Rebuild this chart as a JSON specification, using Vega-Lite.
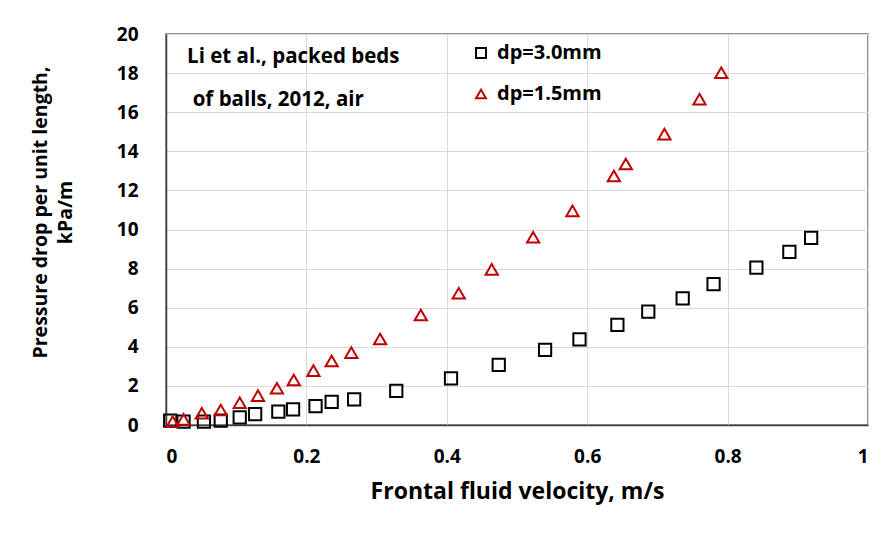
{
  "$schema": "https://vega.github.io/schema/vega-lite/v6.json",
  "width": 702,
  "height": 391,
  "autosize": {"type": "none"},
  "padding": {"left": 166, "top": 34, "right": 24, "bottom": 114},
  "background": "white",
  "config": {
    "font": "Open Sans",
    "view": {"stroke": "#6e6e6e", "strokeWidth": 1.5},
    "axis": {
      "labelFont": "Open Sans", "labelFontWeight": "bold", "labelFontSize": 19, "labelColor": "#000000",
      "titleFont": "Open Sans", "titleFontWeight": "bold", "titleColor": "#000000",
      "gridColor": "#d9d9d9", "gridWidth": 1,
      "domainColor": "#404040", "domainWidth": 1.5,
      "ticks": false, "tickSize": 0, "labelOverlap": false
    },
    "legend": {
      "orient": "none", "legendX": 305, "legendY": 9, "title": null,
      "labelFont": "Open Sans", "labelFontSize": 20, "labelFontWeight": "bold", "labelColor": "#000000",
      "symbolSize": 100, "symbolStrokeWidth": 2, "rowPadding": 21, "labelOffset": 6, "padding": 0
    }
  },
  "data": {
    "values": [
      {"v": 0.006, "p": 0.22, "s": "dp=3.0mm"},
      {"v": 0.025, "p": 0.17, "s": "dp=3.0mm"},
      {"v": 0.054, "p": 0.17, "s": "dp=3.0mm"},
      {"v": 0.078, "p": 0.22, "s": "dp=3.0mm"},
      {"v": 0.105, "p": 0.39, "s": "dp=3.0mm"},
      {"v": 0.127, "p": 0.56, "s": "dp=3.0mm"},
      {"v": 0.160, "p": 0.68, "s": "dp=3.0mm"},
      {"v": 0.181, "p": 0.80, "s": "dp=3.0mm"},
      {"v": 0.213, "p": 0.97, "s": "dp=3.0mm"},
      {"v": 0.236, "p": 1.18, "s": "dp=3.0mm"},
      {"v": 0.268, "p": 1.31, "s": "dp=3.0mm"},
      {"v": 0.328, "p": 1.74, "s": "dp=3.0mm"},
      {"v": 0.406, "p": 2.39, "s": "dp=3.0mm"},
      {"v": 0.474, "p": 3.07, "s": "dp=3.0mm"},
      {"v": 0.540, "p": 3.84, "s": "dp=3.0mm"},
      {"v": 0.589, "p": 4.38, "s": "dp=3.0mm"},
      {"v": 0.643, "p": 5.12, "s": "dp=3.0mm"},
      {"v": 0.687, "p": 5.80, "s": "dp=3.0mm"},
      {"v": 0.736, "p": 6.48, "s": "dp=3.0mm"},
      {"v": 0.780, "p": 7.20, "s": "dp=3.0mm"},
      {"v": 0.841, "p": 8.05, "s": "dp=3.0mm"},
      {"v": 0.888, "p": 8.85, "s": "dp=3.0mm"},
      {"v": 0.919, "p": 9.57, "s": "dp=3.0mm"},
      {"v": 0.0095, "p": 0.17, "s": "dp=1.5mm"},
      {"v": 0.025, "p": 0.29, "s": "dp=1.5mm"},
      {"v": 0.051, "p": 0.60, "s": "dp=1.5mm"},
      {"v": 0.078, "p": 0.77, "s": "dp=1.5mm"},
      {"v": 0.105, "p": 1.14, "s": "dp=1.5mm"},
      {"v": 0.131, "p": 1.50, "s": "dp=1.5mm"},
      {"v": 0.158, "p": 1.88, "s": "dp=1.5mm"},
      {"v": 0.182, "p": 2.30, "s": "dp=1.5mm"},
      {"v": 0.210, "p": 2.78, "s": "dp=1.5mm"},
      {"v": 0.236, "p": 3.27, "s": "dp=1.5mm"},
      {"v": 0.264, "p": 3.70, "s": "dp=1.5mm"},
      {"v": 0.305, "p": 4.40, "s": "dp=1.5mm"},
      {"v": 0.363, "p": 5.63, "s": "dp=1.5mm"},
      {"v": 0.417, "p": 6.74, "s": "dp=1.5mm"},
      {"v": 0.464, "p": 7.96, "s": "dp=1.5mm"},
      {"v": 0.523, "p": 9.60, "s": "dp=1.5mm"},
      {"v": 0.579, "p": 10.95, "s": "dp=1.5mm"},
      {"v": 0.638, "p": 12.74, "s": "dp=1.5mm"},
      {"v": 0.655, "p": 13.35, "s": "dp=1.5mm"},
      {"v": 0.710, "p": 14.88, "s": "dp=1.5mm"},
      {"v": 0.760, "p": 16.66, "s": "dp=1.5mm"},
      {"v": 0.791, "p": 18.02, "s": "dp=1.5mm"}
    ]
  },
  "encoding": {
    "x": {
      "field": "v", "type": "quantitative",
      "scale": {"domain": [0, 1], "nice": false},
      "axis": {
        "title": "Frontal fluid velocity, m/s",
        "titleFontSize": 23,
        "values": [0, 0.2, 0.4, 0.6, 0.8, 1],
        "format": "~g",
        "labelOverlap": false,
        "labelPadding": 22,
        "titlePadding": 14
      }
    },
    "y": {
      "field": "p", "type": "quantitative",
      "scale": {"domain": [0, 20], "nice": false},
      "axis": {
        "title": ["Pressure drop per unit length,", "kPa/m"],
        "titleFontSize": 19.5,
        "values": [0, 2, 4, 6, 8, 10, 12, 14, 16, 18, 20],
        "labelOverlap": false,
        "labelPadding": 28,
        "titleX": -126,
        "titleY": 178,
        "titleBaseline": "middle",
        "titleLineHeight": 25
      }
    }
  },
  "layer": [
    {
      "mark": {"type": "point", "filled": false, "strokeWidth": 2, "size": 150, "opacity": 1},
      "encoding": {
        "shape": {
          "field": "s", "type": "nominal",
          "scale": {"domain": ["dp=3.0mm", "dp=1.5mm"], "range": ["square", "triangle-up"]}
        },
        "color": {
          "field": "s", "type": "nominal",
          "scale": {"domain": ["dp=3.0mm", "dp=1.5mm"], "range": ["#000000", "#C00000"]}
        }
      }
    },
    {
      "data": {
        "values": [
          {"v": 0.03, "p": 18.84, "t": "Li et al., packed beds"},
          {"v": 0.038, "p": 16.62, "t": "of balls, 2012, air"}
        ]
      },
      "mark": {"type": "text", "align": "left", "baseline": "middle", "font": "Open Sans", "fontWeight": "bold", "fontSize": 20.5, "color": "#000000"},
      "encoding": {
        "text": {"field": "t"}
      }
    }
  ]
}
